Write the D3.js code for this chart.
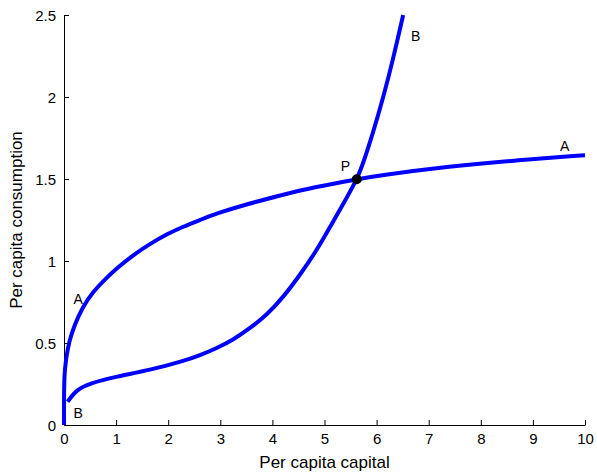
<!DOCTYPE html>
<html><head><meta charset="utf-8">
<script src="https://cdn.jsdelivr.net/npm/d3@7"></script>
<style>body{margin:0;background:#fff}svg{display:block}text{font-family:"Liberation Sans",Arial,sans-serif}</style>
</head><body>
<script>
const xTicks = [0,1,2,3,4,5,6,7,8,9,10];
const yTicks = [0,0.5,1,1.5,2,2.5];
const yTickLabels = ["0","0.5","1","1.5","2","2.5"];
const curveA_k = [0, 0, 0.004, 0.04, 0.10, 0.20, 0.36, 0.55, 0.81, 1.01, 1.33, 1.65, 1.97, 2.29, 2.61, 2.93, 3.51, 4.15, 4.79, 5.62, 6.07, 7.35, 8.63, 10.0];
const curveA_c = [0, 0.14, 0.30, 0.41, 0.51, 0.61, 0.72, 0.81, 0.895, 0.955, 1.037, 1.104, 1.163, 1.21, 1.25, 1.29, 1.347, 1.40, 1.45, 1.498, 1.522, 1.575, 1.613, 1.645];
const curveB_k = [0.07, 0.23, 0.49, 1.0, 1.65, 2.29, 2.61, 2.93, 3.25, 3.57, 3.89, 4.21, 4.53, 4.85, 5.11, 5.33, 5.62, 5.71, 5.94, 6.13, 6.32, 6.51];
const curveB_c = [0.142, 0.213, 0.254, 0.295, 0.335, 0.39, 0.425, 0.468, 0.52, 0.59, 0.67, 0.78, 0.915, 1.065, 1.21, 1.33, 1.498, 1.565, 1.79, 2.0, 2.235, 2.50];
const pointP = {k: 5.62, c: 1.498};
const labels = [
  {t:"A", k:0.27, c:0.77}, {t:"B", k:0.27, c:0.07},
  {t:"B", k:6.75, c:2.37}, {t:"A", k:9.61, c:1.70}, {t:"P", k:5.4, c:1.58}
];

const W = 597, H = 475, m = {l:64, r:12, t:15, b:50};
const svg = d3.select("body").append("svg").attr("width", W).attr("height", H);
const x = d3.scaleLinear().domain([0,10]).range([m.l, W - m.r]);
const y = d3.scaleLinear().domain([0,2.5]).range([H - m.b, m.t]);

const xa = svg.append("g").attr("transform", `translate(0,${H - m.b})`)
  .call(d3.axisBottom(x).tickValues(xTicks).tickSizeInner(-5).tickSizeOuter(0).tickPadding(8).tickFormat(d3.format("d")));
const ya = svg.append("g").attr("transform", `translate(${m.l},0)`)
  .call(d3.axisLeft(y).tickValues(yTicks).tickSizeInner(-5).tickSizeOuter(0).tickPadding(8).tickFormat((d,i)=>yTickLabels[i]));
[xa, ya].forEach(g => {
  g.selectAll("text").attr("font-size", 15).attr("fill", "#000").attr("font-family", '"Liberation Sans",Arial,sans-serif');
  g.selectAll("line,path").attr("stroke", "#000");
});
ya.selectAll("text").attr("dy", "0.35em");

const line = d3.line().x(d => x(d[0])).y(d => y(d[1])).curve(d3.curveBasis);
const A = curveA_k.map((k,i)=>[k, curveA_c[i]]);
const B = curveB_k.map((k,i)=>[k, curveB_c[i]]);
svg.append("path").attr("d", line(A)).attr("fill","none").attr("stroke","#0000ff").attr("stroke-width",4);
svg.append("path").attr("d", line(B)).attr("fill","none").attr("stroke","#0000ff").attr("stroke-width",4);
svg.append("circle").attr("cx", x(pointP.k)).attr("cy", y(pointP.c)).attr("r", 5).attr("fill","#000");

svg.selectAll("text.lab").data(labels).enter().append("text").attr("class","lab")
  .attr("x", d => x(d.k)).attr("y", d => y(d.c)).attr("text-anchor","middle").attr("dy","0.35em")
  .attr("font-size", 14).text(d => d.t);

svg.append("text").attr("x", (m.l + W - m.r)/2).attr("y", 468).attr("text-anchor","middle")
  .attr("font-size", 17).text("Per capita capital");
svg.append("text").attr("transform", `translate(22,${(m.t + H - m.b)/2}) rotate(-90)`).attr("text-anchor","middle")
  .attr("font-size", 17).text("Per capita consumption");
</script>
</body></html>
